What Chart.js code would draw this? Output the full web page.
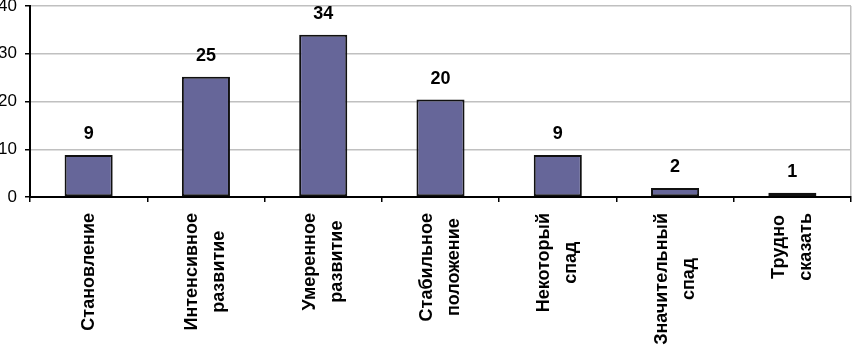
<!DOCTYPE html>
<html>
<head>
<meta charset="utf-8">
<script src="https://cdn.jsdelivr.net/npm/chart.js@4.4.0/dist/chart.umd.min.js"></script>
<style>
  html, body { margin: 0; padding: 0; background: #fff; }
  #wrap { width: 853px; height: 349px; }
</style>
</head>
<body>
<div id="wrap"><canvas id="chart" width="853" height="349"></canvas></div>
<script>
// categories (line-broken the way they appear under the axis)
var categories = [
  ['Становление'],
  ['Интенсивное', 'развитие'],
  ['Умеренное', 'развитие'],
  ['Стабильное', 'положение'],
  ['Некоторый', 'спад'],
  ['Значительный', 'спад'],
  ['Трудно', 'сказать']
];
var values = [8.8, 25.2, 34.0, 20.4, 8.8, 1.9, 0.9];
var valueLabels = ['9', '25', '34', '20', '9', '2', '1'];
var yTicks = [0, 10, 20, 30, 40];

var barColors = [];
for (var i in values) {
  barColors.push(i == values.length - 1 ? '#c0c0c0' : '#666699');
}

var fontFam = '"Liberation Sans", Arial, sans-serif';

// numbers over the bars
var valueLabelPlugin = {
  id: 'valueLabels',
  afterDatasetsDraw: function(chart) {
    var ctx = chart.ctx;
    var meta = chart.getDatasetMeta(0);
    ctx.save();
    ctx.font = 'bold 18px ' + fontFam;
    ctx.fillStyle = '#000';
    ctx.textAlign = 'center';
    ctx.textBaseline = 'alphabetic';
    meta.data.forEach(function(bar, i) {
      ctx.fillText(valueLabels[i], bar.x, bar.y - 16);
    });
    ctx.restore();
  }
};

// vertical category labels, lines centred on each other
var catLabelPlugin = {
  id: 'catLabels',
  afterDraw: function(chart) {
    var ctx = chart.ctx;
    var xs = chart.scales.x;
    ctx.save();
    ctx.font = 'bold 18px ' + fontFam;
    ctx.fillStyle = '#000';
    ctx.textAlign = 'center';
    ctx.textBaseline = 'middle';
    categories.forEach(function(lines, i) {
      var w = 0;
      lines.forEach(function(l) { w = Math.max(w, ctx.measureText(l).width); });
      var x = xs.getPixelForTick(i);
      var y = xs.top + 16 + w / 2;
      ctx.save();
      ctx.translate(x, y);
      ctx.rotate(-Math.PI / 2);
      lines.forEach(function(l, j) {
        ctx.fillText(l, 0, (j - (lines.length - 1) / 2) * 27);
      });
      ctx.restore();
    });
    ctx.restore();
  }
};

var chartdata = {
  labels: categories,
  datasets: [{
    data: values,
    backgroundColor: barColors,
    borderColor: '#111',
    borderWidth: 2,
    borderSkipped: false,
    categoryPercentage: 1,
    barPercentage: 0.41
  }]
};

var ctx = document.getElementById('chart');
var barGraph = new Chart(ctx, {
  type: 'bar',
  data: chartdata,
  options: {
    responsive: false,
    devicePixelRatio: 1,
    animation: false,
    layout: { padding: { top: 6, right: 2, left: 0, bottom: 0 } },
    plugins: {
      legend: { display: false },
      tooltip: { enabled: false }
    },
    scales: {
      y: {
        min: 0,
        max: 40,
        afterBuildTicks: function(s) {
          s.ticks = yTicks.map(function(v) { return { value: v }; });
        },
        afterFit: function(s) {
          s.width = 30;
          s.paddingTop = 0;
          s.paddingBottom = 0;
        },
        ticks: {
          color: '#000',
          padding: 8,
          font: { family: fontFam, size: 17 }
        },
        grid: {
          color: '#c0c0c0',
          lineWidth: 1.5,
          tickColor: '#000',
          tickLength: 5
        },
        border: { color: '#000', width: 2 }
      },
      x: {
        afterFit: function(s) { s.height = 152; },
        ticks: { display: false },
        grid: {
          offset: true,
          drawOnChartArea: true,
          color: function(c) { return c.type === 'scale' ? '#c0c0c0' : 'rgba(0,0,0,0)'; },
          lineWidth: 1.5,
          tickColor: '#000',
          tickLength: 5
        },
        border: { color: '#000', width: 2 }
      }
    }
  },
  plugins: [valueLabelPlugin, catLabelPlugin]
});
</script>
</body>
</html>
